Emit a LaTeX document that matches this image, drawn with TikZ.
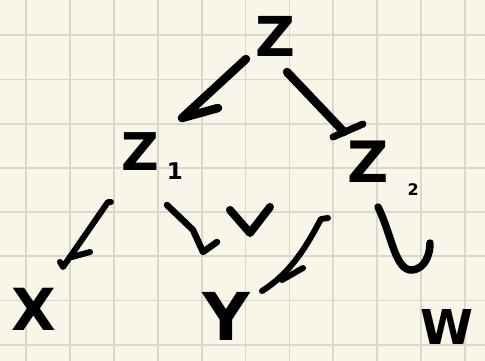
\documentclass[tikz,border=0pt]{standalone}
\usepackage{fontspec}
\setmainfont{DejaVu Sans}
\definecolor{paper}{RGB}{248,245,233}
\definecolor{gridc}{RGB}{218,215,204}
\begin{document}
\begin{tikzpicture}[x=1pt,y=-1pt,
  ink/.style={line width=7pt,line cap=round,line join=round,black},
  lbl/.style={inner sep=0pt,anchor=center,text=black}]
\fill[paper] (0,0) rectangle (485,361);
\useasboundingbox (0,0) rectangle (485,361);
\foreach \i in {0,...,10} \draw[gridc,line width=1.8pt] ({26.3+43.85*\i},0) -- ({26.3+43.85*\i},361);
\foreach \j in {0,...,7} \draw[gridc,line width=1.8pt] (0,{35.3+44.2*\j}) -- (485,{35.3+44.2*\j});
% labels
\node[lbl,font=\fontsize{55}{55}\selectfont\bfseries] (z) at (275,36) {Z};
\node[lbl,font=\fontsize{52}{52}\selectfont\bfseries] (z1) at (140,152) {Z\rlap{\smash{\hspace{8pt}\raisebox{-9pt}{\fontsize{23}{23}\selectfont 1}}}};
\node[lbl,font=\fontsize{57}{57}\selectfont\bfseries] (z2) at (368,162) {Z\rlap{\smash{\hspace{19pt}\raisebox{-13pt}{\fontsize{16}{16}\selectfont 2}}}};
\node[lbl,font=\fontsize{58}{58}\selectfont\bfseries] (x) at (34,309) {X};
\node[lbl,font=\fontsize{66}{66}\selectfont\bfseries] (y) at (226,316) {Y};
\node[lbl,font=\fontsize{48}{48}\selectfont\bfseries] (w) at (447,327) {W};
% connector end points
\coordinate (zA) at (246,59);  \coordinate (z1T) at (182,118);
\coordinate (zB) at (287,72);  \coordinate (z2T) at (344,132);
\coordinate (z1A) at (108,202); \coordinate (xT) at (63,267);
\coordinate (z1B) at (167,205); \coordinate (yT1) at (203,252);
\coordinate (z2A) at (328,218); \coordinate (yT2) at (262,291);
\coordinate (z2B) at (378,207); \coordinate (wT) at (430,243);
% Z -> Z1
\draw[ink,line width=8.5pt] (zA) -- (z1T) -- ++(36,-10);
% Z -> Z2
\draw[ink,line width=8.5pt] (zB) -- (z2T);
\draw[ink] (z2T) ++(-11,5) -- ++(30,-13);
% Z1 -> X
\draw[ink,line width=6pt] (z1A) ++(3,0) -- (z1A) -- (xT) -- ++(-3,-5);
\draw[ink,line width=6pt] (xT) ++(9,-10) -- ++(18,-5);
% Z1 -> Y
\draw[ink,line width=6.5pt] (z1B) -- (193,230) -- (yT1) -- ++(14,-10);
% check mark
\draw[ink,line width=8pt] (230,210) -- (250,233) -- (270,207);
% Z2 -> Y
\draw[ink,line width=6pt] (z2A) -- ++(-7,1) .. controls (307,245) and (292,272) .. (yT2);
\draw[ink,line width=6pt] (282,280) -- (303,268);
% Z2 -> W
\draw[ink,line width=7.5pt] (z2B) .. controls (392,235) and (395,272) .. (413,270) .. controls (425,268) and (430,255) .. (wT);
\end{tikzpicture}
\end{document}
